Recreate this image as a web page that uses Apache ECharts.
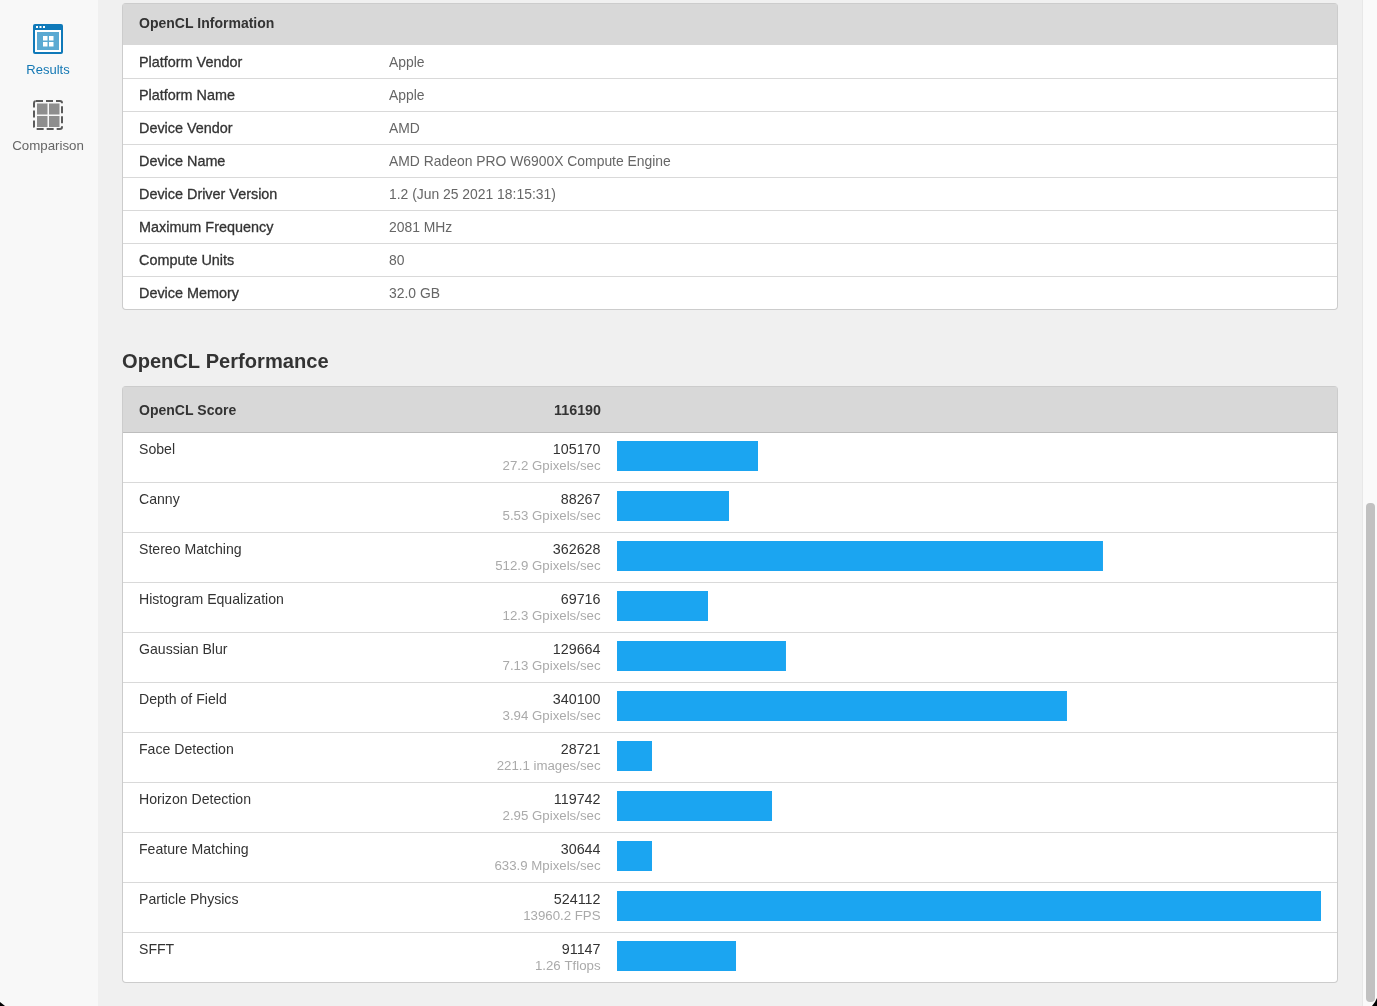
<!DOCTYPE html>
<html>
<head>
<meta charset="utf-8">
<title>OpenCL Performance</title>
<style>
  html, body { margin: 0; padding: 0; background: #f0f0f0; overflow: hidden; }
  #chart { width: 1377px; height: 1006px; }
</style>
<script src="https://cdn.jsdelivr.net/npm/echarts@6/dist/echarts.min.js"></script>
</head>
<body>
<div id="chart"></div>
<script>
var infoKeys = ['Platform Vendor', 'Platform Name', 'Device Vendor', 'Device Name',
  'Device Driver Version', 'Maximum Frequency', 'Compute Units', 'Device Memory'];
var infoValues = ['Apple', 'Apple', 'AMD', 'AMD Radeon PRO W6900X Compute Engine',
  '1.2 (Jun 25 2021 18:15:31)', '2081 MHz', '80', '32.0 GB'];

var workloads = ['Sobel', 'Canny', 'Stereo Matching', 'Histogram Equalization', 'Gaussian Blur',
  'Depth of Field', 'Face Detection', 'Horizon Detection', 'Feature Matching', 'Particle Physics', 'SFFT'];
var scores = [105170, 88267, 362628, 69716, 129664, 340100, 28721, 119742, 30644, 524112, 91147];
var rates = ['27.2 Gpixels/sec', '5.53 Gpixels/sec', '512.9 Gpixels/sec', '12.3 Gpixels/sec',
  '7.13 Gpixels/sec', '3.94 Gpixels/sec', '221.1 images/sec', '2.95 Gpixels/sec',
  '633.9 Mpixels/sec', '13960.2 FPS', '1.26 Tflops'];
// bar lengths as seen in the picture, they run a bit short of the printed scores
var barValues = [104970, 83380, 361800, 67750, 125800, 335000, 26060, 115400, 26060, 524112, 88600];
var totalScore = 116190;

var FONT = '"Liberation Sans", Arial, sans-serif';

function rect(x, y, w, h, fill, r, z) {
  return { type: 'rect', silent: true, z: z || 1, shape: { x: x, y: y, width: w, height: h, r: r || 0 }, style: { fill: fill } };
}
function label(x, y, str, size, color, weight, align) {
  return { type: 'text', silent: true, z: 5, x: x, y: y, style: {
    text: str, fill: color, font: (weight || 'normal') + ' ' + size + 'px ' + FONT,
    textAlign: align || 'left', textVerticalAlign: 'middle' } };
}
// the table keys are a medium weight, regular face with a thin outline comes closest
function mediumLabel(x, y, str, size, color) {
  var el = label(x, y, str, size, color);
  el.style.stroke = color;
  el.style.lineWidth = 0.3;
  return el;
}

var items = [];

// page background, sidebar, scrollbar
items.push(rect(0, 0, 98, 1006, '#f8f8f8'));
items.push(rect(1362, 0, 15, 1006, '#fafafa'));
items.push(rect(1362, 0, 1, 1006, '#e8e8e8'));
items.push(rect(1366, 503, 9, 499, '#c1c1c1', 4));

// sidebar icons
items.push(rect(33, 24, 30, 30, '#0f79b9', 2));
items.push(rect(35, 30, 26, 22, '#ffffff'));
items.push(rect(37, 32, 22, 18, '#5ba9d2'));
[43, 49].forEach(function (x) {
  [36, 42].forEach(function (y) { items.push(rect(x, y, 4.5, 4.5, '#ffffff', 0, 2)); });
});
[36, 39.5, 43].forEach(function (x) { items.push(rect(x, 26, 2, 2, '#ffffff', 0, 2)); });
items.push({ type: 'rect', silent: true, z: 1, shape: { x: 34, y: 101, width: 28, height: 28, r: 2 },
  style: { fill: 'none', stroke: '#5a5a5a', lineWidth: 2, lineDash: [7, 3] } });
[[37, 10.5], [49, 10.5]].forEach(function (c) {
  [103.5, 116].forEach(function (y) { items.push(rect(c[0], y, c[1], 11, '#8e8e8e', 0, 2)); });
});
items.push(label(48, 70, 'Results', 13, '#1478b4', 'normal', 'center'));
items.push(label(48, 146, 'Comparison', 13.3, '#666666', 'normal', 'center'));

// information table
items.push(rect(122, 3, 1216, 307, '#cccccc', 4));
items.push(rect(123, 4, 1214, 305, '#ffffff', 3));
items.push(rect(123, 4, 1214, 41, '#d8d8d8'));
items.push(label(139, 24, 'OpenCL Information', 14, '#333333', 'bold'));
infoKeys.forEach(function (key, i) {
  var mid = 63 + i * 33;
  items.push(mediumLabel(139, mid, key, 14.4, '#333333'));
  items.push(label(389, mid, infoValues[i], 13.9, '#666666'));
  if (i < infoKeys.length - 1) items.push(rect(123, 78 + i * 33, 1214, 1, '#d9d9d9'));
});

// performance table
items.push(label(122, 362, 'OpenCL Performance', 20.1, '#333333', 'bold'));
items.push(rect(122, 386, 1216, 597, '#cccccc', 4));
items.push(rect(123, 387, 1214, 595, '#ffffff', 3));
items.push(rect(123, 387, 1214, 45, '#d8d8d8'));
items.push(rect(123, 432, 1214, 1, '#bdbdbd'));
items.push(label(139, 411, 'OpenCL Score', 14, '#333333', 'bold'));
items.push(label(601, 411, String(totalScore), 14.3, '#333333', 'bold', 'right'));
workloads.forEach(function (w, i) {
  if (i > 0) items.push(rect(123, 432 + i * 50, 1214, 1, '#d9d9d9'));
});

// window corners
items.push({ type: 'polygon', silent: true, z: 6, shape: { points: [[0, 1002], [5, 1006], [0, 1006]] }, style: { fill: '#000000' } });
items.push({ type: 'polygon', silent: true, z: 6, shape: { points: [[1377, 998], [1375, 1002], [1372, 1006], [1377, 1006]] }, style: { fill: '#000000' } });

var chart = echarts.init(document.getElementById('chart'));
chart.setOption({
  animation: false,
  backgroundColor: '#f0f0f0',
  textStyle: { fontFamily: FONT },
  graphic: { elements: items },
  grid: { left: 617, top: 431, width: 704, height: 550 },
  xAxis: { type: 'value', min: 0, max: 524112, show: false },
  yAxis: [
    {
      type: 'category', inverse: true, data: workloads, z: 20,
      axisLine: { show: false }, axisTick: { show: false }, splitLine: { show: false },
      axisLabel: {
        interval: 0, margin: 16.5, align: 'right', padding: [4, 0, 0, 0],
        formatter: function (v, i) { return '{s|' + scores[i] + '}\n{r|' + rates[i] + '}'; },
        rich: {
          s: { fontSize: 14.3, lineHeight: 16, color: '#333333', align: 'right', fontFamily: FONT },
          r: { fontSize: 13.25, lineHeight: 16, color: '#aaaaaa', align: 'right', fontFamily: FONT }
        }
      }
    },
    {
      type: 'category', inverse: true, position: 'left', data: workloads, z: 20,
      axisLine: { show: false }, axisTick: { show: false }, splitLine: { show: false },
      axisLabel: {
        interval: 0, margin: 478, align: 'left', padding: [4, 0, 0, 0],
        formatter: function (v) { return '{n|' + v + '}\n{n| }'; },
        rich: { n: { fontSize: 14.1, lineHeight: 16, color: '#333333', fontFamily: FONT } }
      }
    }
  ],
  series: [{
    type: 'bar', yAxisIndex: 0, data: barValues, barWidth: 30, silent: true, z: 10,
    itemStyle: { color: '#1ba5f1' }
  }]
});
</script>
</body>
</html>
